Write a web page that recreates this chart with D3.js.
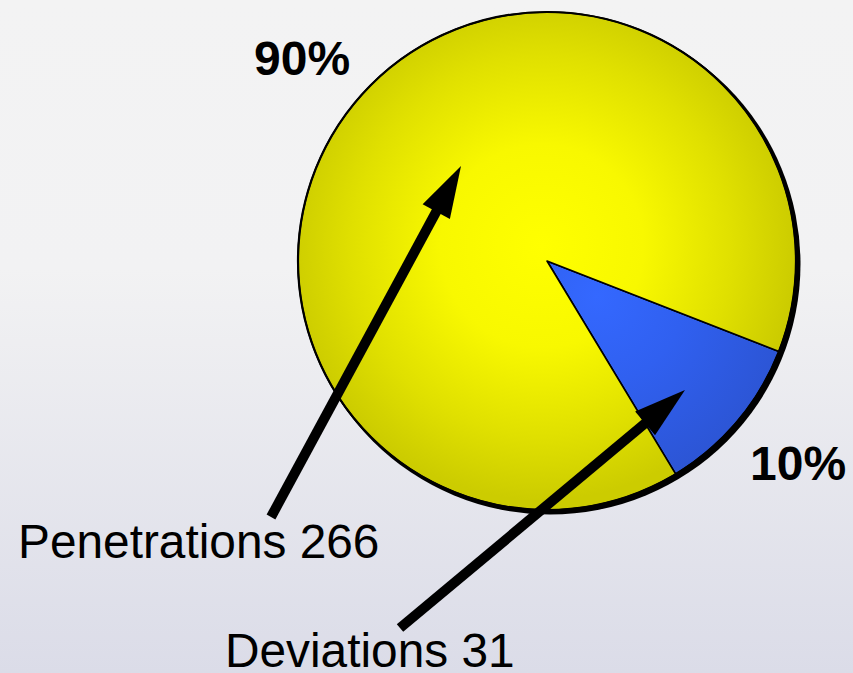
<!DOCTYPE html>
<html>
<head>
<meta charset="utf-8">
<script src="https://cdn.jsdelivr.net/npm/d3@7/dist/d3.min.js"></script>
<style>
html,body{margin:0;padding:0;}
svg{display:block;}
</style>
</head>
<body>
<script>
const categories = ["Deviations", "Penetrations"];
const values = [31, 266];
const percentLabels = ["10%", "90%"];

const W = 853, H = 673;
const cx = 547, cy = 261, R = 249;

const svg = d3.select("body").append("svg").attr("width", W).attr("height", H);
const defs = svg.append("defs");

const bg = defs.append("linearGradient").attr("id","bg").attr("x1",0).attr("y1",0).attr("x2",0).attr("y2",1);
bg.append("stop").attr("offset","0%").attr("stop-color","#f3f3f3");
bg.append("stop").attr("offset","40%").attr("stop-color","#f2f2f3");
bg.append("stop").attr("offset","100%").attr("stop-color","#dbdce8");
svg.append("rect").attr("width",W).attr("height",H).attr("fill","url(#bg)");

// gradients in the pie group's local coordinates (centre = 0,0)
const gy = defs.append("radialGradient").attr("id","gy").attr("gradientUnits","userSpaceOnUse")
  .attr("cx",-5).attr("cy",-15).attr("r",R+5);
gy.append("stop").attr("offset","0%").attr("stop-color","#ffff00");
gy.append("stop").attr("offset","40%").attr("stop-color","#f8f800");
gy.append("stop").attr("offset","75%").attr("stop-color","#e0e000");
gy.append("stop").attr("offset","100%").attr("stop-color","#cccc00");

const gb = defs.append("radialGradient").attr("id","gb").attr("gradientUnits","userSpaceOnUse")
  .attr("cx",50).attr("cy",35).attr("r",R);
gb.append("stop").attr("offset","0%").attr("stop-color","#3468ff");
gb.append("stop").attr("offset","35%").attr("stop-color","#3060f0");
gb.append("stop").attr("offset","100%").attr("stop-color","#2a4fc6");

const fills = {"Deviations":"url(#gb)", "Penetrations":"url(#gy)"};

const pie = d3.pie().sort(null).value(d => d.v)
  .startAngle(111.3 * Math.PI/180).endAngle(111.3 * Math.PI/180 + 2*Math.PI);
const arcs = pie(categories.map((c,i)=>({c, v: values[i]})));
const arc = d3.arc().innerRadius(0).outerRadius(R);

const g = svg.append("g").attr("transform",`translate(${cx},${cy})`);
// shadow/outline
g.append("circle").attr("cx",3).attr("cy",3).attr("r",R+1.5).attr("fill","#000");
g.selectAll("path.slice").data(arcs).enter().append("path")
  .attr("class","slice")
  .attr("d", arc)
  .attr("fill", d => fills[d.data.c])
  .attr("stroke","#000").attr("stroke-width",1.6).attr("stroke-linejoin","round");
g.append("circle").attr("r",R).attr("fill","none").attr("stroke","#000").attr("stroke-width",2.2);

// percentage labels
const pctPos = [[750,480],[254,75]];
svg.selectAll("text.pct").data(percentLabels).enter().append("text")
  .attr("class","pct")
  .attr("x",(d,i)=>pctPos[i][0]).attr("y",(d,i)=>pctPos[i][1])
  .attr("font-family","'Liberation Sans', Arial, sans-serif")
  .attr("font-weight","bold").attr("font-size",48).attr("fill","#000")
  .text(d=>d);

// category labels
const labPos = [[225,667],[18,558]];
svg.selectAll("text.lab").data(categories).enter().append("text")
  .attr("class","lab")
  .attr("x",(d,i)=>labPos[i][0]).attr("y",(d,i)=>labPos[i][1])
  .attr("font-family","'Liberation Sans', Arial, sans-serif")
  .attr("font-size",47.8).attr("fill","#000")
  .text((d,i)=>d + " " + values[i]);

// arrows
const arrows = [
  {from:[400,628], to:[685,390]},
  {from:[271,517], to:[461,166]}
];
const headLen = 52, headHalf = 15.5;
arrows.forEach(a => {
  const dx = a.to[0]-a.from[0], dy = a.to[1]-a.from[1];
  const L = Math.hypot(dx,dy), ux = dx/L, uy = dy/L;
  const bx = a.to[0]-ux*headLen, by = a.to[1]-uy*headLen;
  svg.append("line")
    .attr("x1",a.from[0]).attr("y1",a.from[1])
    .attr("x2",bx+ux*4).attr("y2",by+uy*4)
    .attr("stroke","#000").attr("stroke-width",10);
  const px = -uy, py = ux;
  svg.append("path")
    .attr("d",`M${a.to[0]},${a.to[1]}L${bx+px*headHalf},${by+py*headHalf}L${bx-px*headHalf},${by-py*headHalf}Z`)
    .attr("fill","#000");
});
</script>
</body>
</html>
